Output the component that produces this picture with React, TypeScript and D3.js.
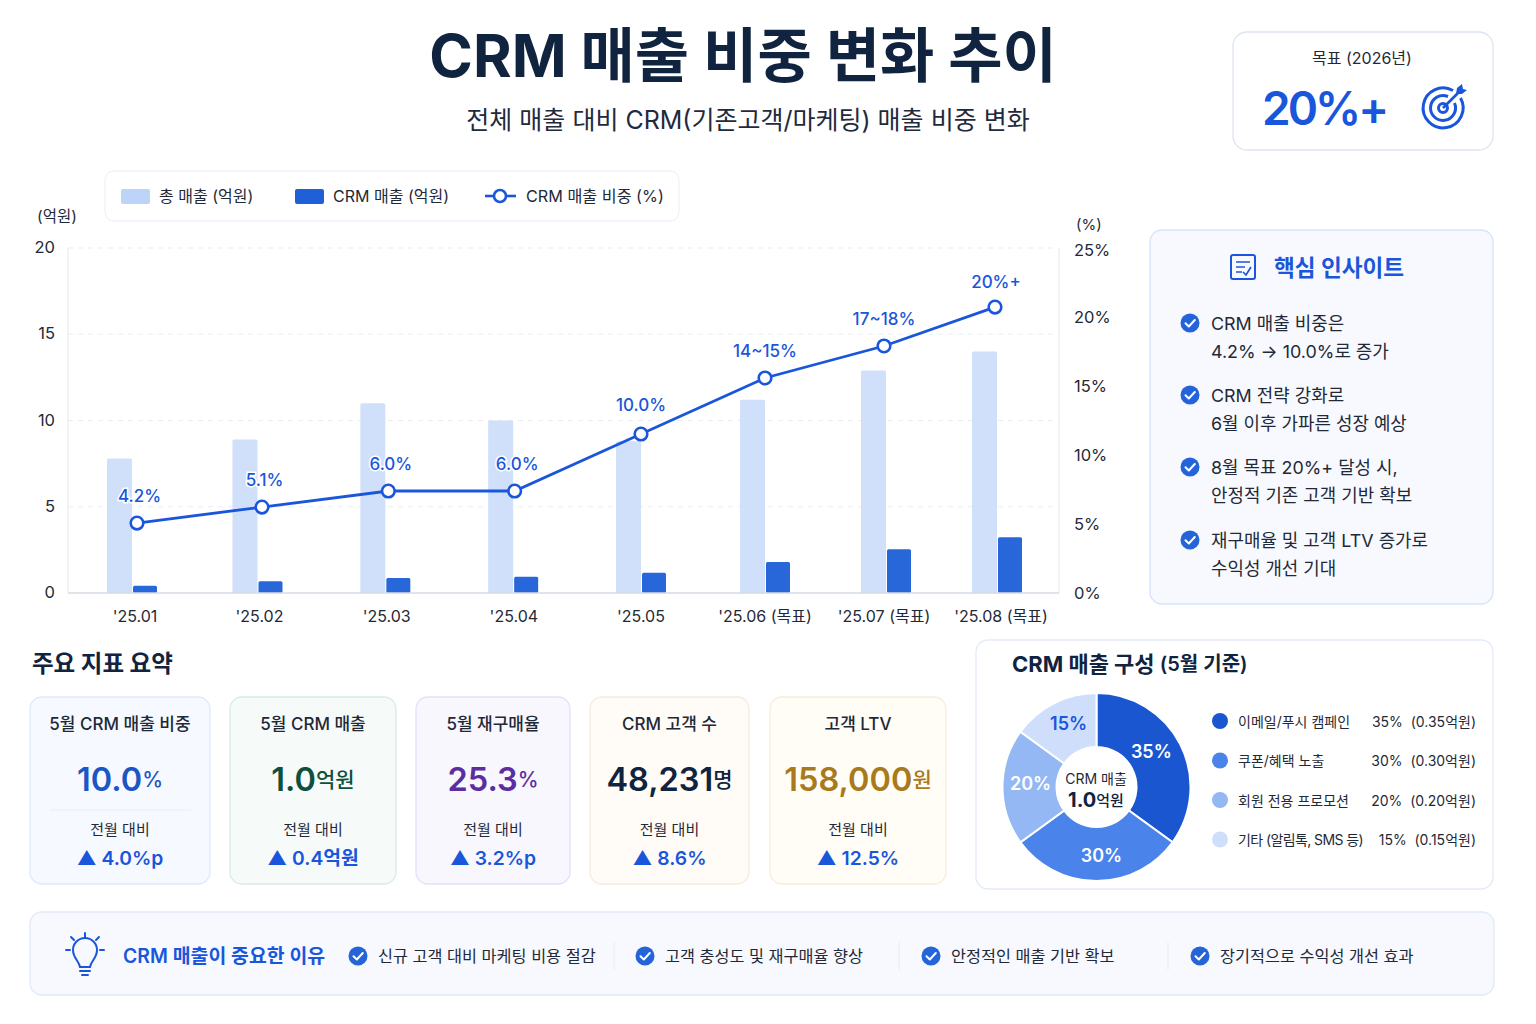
import { useEffect, useRef } from 'react';
import * as d3 from 'd3';

const FONT = 'Inter, "Noto Sans CJK KR", sans-serif';
const BLUE = '#1a56db', NAVY = '#10233f', INK = '#1f2937';

const MONTHS = ["'25.01", "'25.02", "'25.03", "'25.04", "'25.05", "'25.06 (목표)", "'25.07 (목표)", "'25.08 (목표)"];
const TOTAL_REVENUE = [7.8, 8.9, 11.0, 10.0, 8.8, 11.2, 12.9, 14.0];
const CRM_REVENUE = [0.42, 0.68, 0.87, 0.94, 1.17, 1.8, 2.53, 3.23];
// Height of each point against the right axis. The printed labels are not to scale in the source.
const SHARE_PLOTTED = [5.07, 6.23, 7.39, 7.39, 11.52, 15.58, 17.9, 20.72];
const SHARE_LABELS = ['4.2%', '5.1%', '6.0%', '6.0%', '10.0%', '14~15%', '17~18%', '20%+'];
const LEFT_TICKS = [0, 5, 10, 15, 20];
const RIGHT_TICKS = [0, 5, 10, 15, 20, 25];

const MIX_NAMES = ['이메일/푸시 캠페인', '쿠폰/혜택 노출', '회원 전용 프로모션', '기타 (알림톡, SMS 등)'];
const MIX_SHARE = [35, 30, 20, 15];
const MIX_AMOUNT = ['0.35억원', '0.30억원', '0.20억원', '0.15억원'];
const MIX_COLORS = ['#1a56d0', '#4a83ea', '#94b8f3', '#cfdffb'];

const KPI_TITLES = ['5월 CRM 매출 비중', '5월 CRM 매출', '5월 재구매율', 'CRM 고객 수', '고객 LTV'];
const KPI_VALUES = ['10.0', '1.0', '25.3', '48,231', '158,000'];
const KPI_UNITS = ['%', '억원', '%', '명', '원'];
const KPI_DELTAS = ['▲ 4.0%p', '▲ 0.4억원', '▲ 3.2%p', '▲ 8.6%', '▲ 12.5%'];
const KPI_COLORS = ['#1c56c4', '#0f4f3f', '#5b2da0', '#10233f', '#a87a1c'];
const KPI_FILLS = ['#f6f9ff', '#f6fbfa', '#f8f7fe', '#fffcf7', '#fffdf6'];
const KPI_STROKES = ['#dfe9fb', '#d9ece8', '#e4e1f7', '#f5ecdc', '#f4eedb'];

const INSIGHTS = [
  ['CRM 매출 비중은', '4.2% → 10.0%로 증가'],
  ['CRM 전략 강화로', '6월 이후 가파른 성장 예상'],
  ['8월 목표 20%+ 달성 시,', '안정적 기존 고객 기반 확보'],
  ['재구매율 및 고객 LTV 증가로', '수익성 개선 기대'],
];
const REASONS = ['신규 고객 대비 마케팅 비용 절감', '고객 충성도 및 재구매율 향상', '안정적인 매출 기반 확보', '장기적으로 수익성 개선 효과'];

type G = d3.Selection<any, unknown, null, undefined>;

function txt(g: G, x: number, y: number, s: string, size: number, fill = INK, weight = 400, anchor = 'start') {
  return g.append('text').attr('x', x).attr('y', y).attr('dominant-baseline', 'central')
    .attr('text-anchor', anchor).attr('font-size', size).attr('font-weight', weight).attr('fill', fill).text(s);
}

function card(g: G, x: number, y: number, w: number, h: number, fill: string, stroke: string, r = 12) {
  return g.append('rect').attr('x', x).attr('y', y).attr('width', w).attr('height', h).attr('rx', r)
    .attr('fill', fill).attr('stroke', stroke).attr('stroke-width', 1.3);
}

function check(g: G, cx: number, cy: number) {
  const c = g.append('g').attr('transform', `translate(${cx},${cy})`);
  c.append('circle').attr('r', 9.5).attr('fill', '#2563d9');
  c.append('path').attr('d', 'M-4.5 0.3 L-1.2 3.5 L4.8 -3').attr('fill', 'none').attr('stroke', '#fff')
    .attr('stroke-width', 2).attr('stroke-linecap', 'round').attr('stroke-linejoin', 'round');
}

function drawHeader(svg: G) {
  txt(svg, 743, 55, 'CRM 매출 비중 변화 추이', 59, NAVY, 700, 'middle');
  txt(svg, 748, 120, '전체 매출 대비 CRM(기존고객/마케팅) 매출 비중 변화', 25, '#1f2a3d', 400, 'middle');

  card(svg, 1233, 32, 260, 118, '#fff', '#dde4ef', 14);
  txt(svg, 1362, 58, '목표 (2026년)', 16, INK, 400, 'middle');
  txt(svg, 1262, 108, '20%+', 46, BLUE, 600).attr('letter-spacing', -3);

  const t = svg.append('g').attr('transform', 'translate(1443,108)').attr('fill', 'none').attr('stroke', BLUE).attr('stroke-width', 3);
  t.append('path').attr('d', 'M10 -17.5 A20 20 0 1 0 17.5 -10');
  t.append('path').attr('d', 'M5 -11.5 A12.5 12.5 0 1 0 11.5 -5');
  t.append('circle').attr('r', 4.5);
  t.append('path').attr('d', 'M0 0 L16 -16').attr('stroke-width', 2.6);
  t.append('path').attr('d', 'M13 -14 L14 -20 L19 -24 L20 -19 L24 -18 L19 -14 Z').attr('fill', BLUE).attr('stroke', 'none');
}

function drawLegend(svg: G) {
  card(svg, 105, 171, 574, 50, '#fff', '#eef2fa', 9);
  svg.append('rect').attr('x', 121).attr('y', 189).attr('width', 29).attr('height', 15).attr('rx', 2).attr('fill', '#bdd3f9');
  txt(svg, 159, 196, '총 매출 (억원)', 16);
  svg.append('rect').attr('x', 295).attr('y', 189).attr('width', 29).attr('height', 15).attr('rx', 2).attr('fill', '#1f5fd8');
  txt(svg, 333, 196, 'CRM 매출 (억원)', 16);
  svg.append('line').attr('x1', 485).attr('x2', 516).attr('y1', 196).attr('y2', 196).attr('stroke', BLUE).attr('stroke-width', 2.6);
  svg.append('circle').attr('cx', 500).attr('cy', 196).attr('r', 6).attr('fill', '#fff').attr('stroke', BLUE).attr('stroke-width', 2.6);
  txt(svg, 526, 196, 'CRM 매출 비중 (%)', 16.2);
}

function drawChart(svg: G) {
  const left = 68, right = 1059, top = 248, bottom = 593;
  const yL = d3.scaleLinear().domain([0, 20]).range([bottom, top]);
  const yR = d3.scaleLinear().domain([0, 25]).range([bottom, top]);
  // Month spacing narrows towards the right in the source, so the x scales are piecewise.
  const xPoint = d3.scaleLinear().domain([0, 1, 4, 5, 6, 7]).range([137, 262, 641, 765, 884, 995]);
  const xBar = d3.scaleLinear().domain([0, 1, 4, 5, 6, 7]).range([132, 257.5, 641, 765, 886, 997]);
  const xLabel = d3.scaleLinear().domain([0, 1, 4, 5, 6, 7]).range([135, 259.5, 641, 765, 884, 1001]);

  LEFT_TICKS.filter(d => d > 0).forEach(d => {
    svg.append('line').attr('x1', left).attr('x2', right).attr('y1', yL(d)).attr('y2', yL(d))
      .attr('stroke', '#e9edf4').attr('stroke-dasharray', '5 5');
  });
  svg.append('line').attr('x1', left).attr('x2', left).attr('y1', top).attr('y2', bottom).attr('stroke', '#e4e7ec');
  svg.append('line').attr('x1', right).attr('x2', right).attr('y1', top).attr('y2', bottom).attr('stroke', '#e4e7ec');

  LEFT_TICKS.forEach(d => txt(svg, 55, yL(d) - 1, String(d), 16.5, INK, 400, 'end'));
  RIGHT_TICKS.forEach(d => txt(svg, 1074, yR(d) + (d === 25 ? 1.5 : 0), `${d}%`, 16.5));
  txt(svg, 37, 216, '(억원)', 15.5);
  txt(svg, 1076, 224, '(%)', 15);

  svg.append('g').selectAll('rect').data(TOTAL_REVENUE).join('rect')
    .attr('x', (_, i) => xBar(i) - 25).attr('y', d => yL(d)).attr('width', 25).attr('height', d => bottom - yL(d))
    .attr('rx', 1.5).attr('fill', '#d0e0fa');
  svg.append('g').selectAll('rect').data(CRM_REVENUE).join('rect')
    .attr('x', (_, i) => xBar(i) + 1).attr('y', d => yL(d)).attr('width', 24).attr('height', d => bottom - yL(d))
    .attr('rx', 1.5).attr('fill', '#2867da');

  svg.append('line').attr('x1', left).attr('x2', right).attr('y1', bottom).attr('y2', bottom).attr('stroke', '#d5dae3').attr('stroke-width', 1.4);

  const line = d3.line<number>().x((_, i) => xPoint(i)).y(v => yR(v));
  svg.append('path').attr('d', line(SHARE_PLOTTED) ?? '').attr('fill', 'none').attr('stroke', BLUE).attr('stroke-width', 2.8);
  svg.append('g').selectAll('circle').data(SHARE_PLOTTED).join('circle')
    .attr('cx', (_, i) => xPoint(i)).attr('cy', d => yR(d)).attr('r', 6.3)
    .attr('fill', '#fff').attr('stroke', BLUE).attr('stroke-width', 2.6);

  SHARE_LABELS.forEach((s, i) => {
    txt(svg, xPoint(i) + (i < 4 ? 2.5 : i === 7 ? 1 : 0), yR(SHARE_PLOTTED[i]) - (i === 7 ? 25 : i === 4 ? 29 : 27), s, 17, BLUE, 500, 'middle')
      .attr('stroke', '#fff').attr('stroke-width', 3).attr('paint-order', 'stroke');
  });
  MONTHS.forEach((m, i) => txt(svg, xLabel(i), 616, m, 16, INK, 400, 'middle'));
}

function drawInsights(svg: G) {
  card(svg, 1150, 230, 343, 374, '#f7f9fe', '#d6e4fb', 12);
  const ic = svg.append('g').attr('transform', 'translate(1243,267)').attr('fill', 'none').attr('stroke', BLUE).attr('stroke-width', 2);
  ic.append('rect').attr('x', -12).attr('y', -12).attr('width', 24).attr('height', 24).attr('rx', 2);
  ic.append('path').attr('d', 'M-7 -5 H7 M-7 0 H2 M-7 5 H-1 M0 5 L3 8 L8 0').attr('stroke-width', 1.7);
  txt(svg, 1274, 267, '핵심 인사이트', 22.6, BLUE, 700);
  const ys = [323, 395, 467, 540];
  INSIGHTS.forEach((rows, i) => {
    check(svg, 1190, ys[i]);
    txt(svg, 1211, ys[i], rows[0], 17.9);
    txt(svg, 1211, ys[i] + 28, rows[1], 17.9);
  });
}

function drawKpis(svg: G) {
  txt(svg, 32, 663, '주요 지표 요약', 23.5, NAVY, 700);
  const xs = [30, 230, 416, 590, 770];
  const ws = [180, 166, 154, 159, 176];
  KPI_TITLES.forEach((title, i) => {
    const cx = xs[i] + ws[i] / 2;
    card(svg, xs[i], 697, ws[i], 187, KPI_FILLS[i], KPI_STROKES[i], 12);
    txt(svg, cx, 724, title, 17, INK, 500, 'middle');
    const v = txt(svg, cx, 779, KPI_VALUES[i], 32.5, KPI_COLORS[i], 600, 'middle');
    v.append('tspan').attr('font-size', 21).attr('font-weight', 500).text(KPI_UNITS[i]);
    txt(svg, cx, 829, '전월 대비', 15, INK, 400, 'middle');
    txt(svg, cx, 858, KPI_DELTAS[i], 19.3, BLUE, 600, 'middle');
  });
  svg.append('line').attr('x1', 50).attr('x2', 191).attr('y1', 810).attr('y2', 810).attr('stroke', '#e6ecf8');
}

function drawMix(svg: G) {
  card(svg, 976, 640, 517, 249, '#fff', '#e3eaf7', 12);
  const head = txt(svg, 1012, 664, 'CRM 매출 구성 ', 22, NAVY, 700);
  head.append('tspan').attr('font-size', 20).attr('font-weight', 600).text('(5월 기준)');

  const pie = d3.pie<number>().sort(null).value(d => d);
  const arc = d3.arc<d3.PieArcDatum<number>>().innerRadius(40).outerRadius(94);
  const labelArc = d3.arc<d3.PieArcDatum<number>>().innerRadius(66).outerRadius(66);
  const g = svg.append('g').attr('transform', 'translate(1096.5,787)');
  const arcs = pie(MIX_SHARE);
  g.selectAll('path').data(arcs).join('path').attr('d', d => arc(d) ?? '')
    .attr('fill', (_, i) => MIX_COLORS[i]).attr('stroke', '#fff').attr('stroke-width', 2);
  // small shifts off the centroid, the source labels do not sit exactly on it
  const nudge = [[-4, -6], [5, 2], [0, -4], [2, -5]];
  arcs.forEach((d, i) => {
    const [x, y] = labelArc.centroid(d);
    txt(g, x + nudge[i][0], y + nudge[i][1], `${MIX_SHARE[i]}%`, 18, i === 3 ? BLUE : '#fff', 600, 'middle');
  });
  txt(svg, 1096, 778, 'CRM 매출', 14, INK, 400, 'middle');
  const c = txt(svg, 1096, 800, '1.0', 20, NAVY, 700, 'middle');
  c.append('tspan').attr('font-size', 15).attr('font-weight', 500).text('억원');

  const ly = d3.scalePoint<string>().domain(MIX_NAMES).range([721, 839.5]);
  MIX_NAMES.forEach((name, i) => {
    const y = ly(name) ?? 0;
    svg.append('circle').attr('cx', 1220).attr('cy', y).attr('r', 8).attr('fill', MIX_COLORS[i]);
    txt(svg, 1238, y, name, 14).attr('letter-spacing', i === 3 ? -0.6 : 0);
    txt(svg, 1476, y, `${MIX_SHARE[i]}%  (${MIX_AMOUNT[i]})`, 14, INK, 400, 'end').style('white-space', 'pre');
  });
}

function drawReasons(svg: G) {
  card(svg, 30, 912, 1464, 83, '#f7f9fe', '#e1e9f8', 12);
  const b = svg.append('g').attr('transform', 'translate(85,955)').attr('fill', 'none').attr('stroke', BLUE)
    .attr('stroke-width', 2).attr('stroke-linecap', 'round');
  b.append('path').attr('d', 'M-5 12 C-6 6 -12 3 -12 -5 A12 12 0 0 1 12 -5 C12 3 6 6 5 12 Z');
  b.append('path').attr('d', 'M-5 16 H5 M-3 20 H3');
  b.append('path').attr('d', 'M0 -22 V-17 M-14 -18 L-11 -15 M14 -18 L11 -15 M-19 -5 H-15 M15 -5 H19');
  txt(svg, 123, 956, 'CRM 매출이 중요한 이유', 19.4, BLUE, 600);
  const checks = [358, 645, 931, 1200];
  REASONS.forEach((s, i) => {
    check(svg, checks[i], 956);
    txt(svg, checks[i] + 20, 956, s, 16.3);
  });
  [614, 899, 1168].forEach(x => {
    svg.append('line').attr('x1', x).attr('x2', x).attr('y1', 942).attr('y2', 970).attr('stroke', '#e6ebf5');
  });
}

export default function App() {
  const svgRef = useRef<SVGSVGElement>(null);

  useEffect(() => {
    const svg = d3.select(svgRef.current) as unknown as G;
    svg.selectAll('*').remove();
    drawHeader(svg);
    drawLegend(svg);
    drawChart(svg);
    drawInsights(svg);
    drawKpis(svg);
    drawMix(svg);
    drawReasons(svg);
  }, []);

  return (
    <svg
      ref={svgRef}
      width={1536}
      height={1024}
      viewBox="0 0 1536 1024"
      style={{ position: 'absolute', left: 0, top: 0, background: '#fff', fontFamily: FONT }}
    />
  );
}
